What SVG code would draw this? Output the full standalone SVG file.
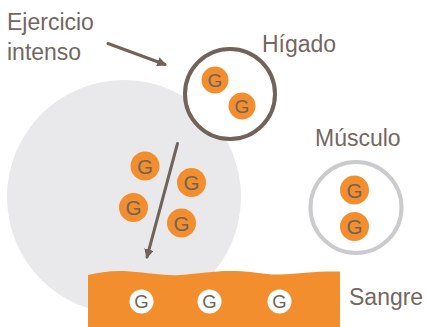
<svg xmlns="http://www.w3.org/2000/svg" width="427" height="327" viewBox="0 0 427 327">
<style>
.lbl{font-family:"Liberation Sans",Arial,sans-serif;font-size:23px;fill:#74675f}
.g{fill:#f28e2e}
.gw{fill:#ffffff}
.gt{font-family:"Liberation Sans",Arial,sans-serif;font-size:20.5px;fill:#6f635b;text-anchor:middle}
.gts{font-family:"Liberation Sans",Arial,sans-serif;font-size:19px;fill:#6f635b;text-anchor:middle}
.gtw{font-family:"Liberation Sans",Arial,sans-serif;font-size:18.5px;fill:#6f635b;text-anchor:middle}
.conn{stroke:#6f635b;stroke-width:3;fill:none;stroke-linecap:round}
</style>
<defs>
<marker id="ah" viewBox="0 0 10 10" refX="8" refY="5" markerWidth="3.2" markerHeight="3.2" orient="auto" markerUnits="strokeWidth">
<path d="M0,0 L10,5 L0,10 z" fill="#6f635b"/>
</marker>
</defs>
<rect width="427" height="327" fill="#ffffff"/>
<g id="cuerpo">
<circle cx="124" cy="197" r="117" fill="#e9e9eb"/>
<circle class="g" cx="145" cy="166" r="14.5"/><text class="gt" x="145" y="173.5">G</text>
<circle class="g" cx="191.5" cy="182.5" r="14.5"/><text class="gt" x="191.5" y="190">G</text>
<circle class="g" cx="133.5" cy="207.5" r="14.5"/><text class="gt" x="133.5" y="215">G</text>
<circle class="g" cx="181.5" cy="223" r="14.5"/><text class="gt" x="181.5" y="230.5">G</text>
</g>
<g id="higado">
<circle cx="230" cy="94" r="45" fill="#ffffff" stroke="#6f635b" stroke-width="4"/>
<circle class="g" cx="215" cy="80" r="13.5"/><text class="gts" x="215" y="87">G</text>
<circle class="g" cx="242" cy="106" r="13.5"/><text class="gts" x="242" y="113">G</text>
<text class="lbl" x="262" y="52">Hígado</text>
</g>
<g id="musculo">
<circle cx="356" cy="207.5" r="45.5" fill="#ffffff" stroke="#cbcbcf" stroke-width="4"/>
<circle class="g" cx="354.5" cy="190" r="14.5"/><text class="gt" x="354.5" y="197.5">G</text>
<circle class="g" cx="354.5" cy="226.5" r="14.5"/><text class="gt" x="354.5" y="234">G</text>
<text class="lbl" x="315" y="146">Músculo</text>
</g>
<g id="sangre">
<path d="M88,275 C100,272 115,270 130,271.5 C150,273 165,276 180,275 C200,273.5 215,270.5 235,271 C255,271.5 265,275 280,274.5 C300,273.5 315,271 340,271.5 L340,327 L88,327 z" fill="#f28e2e"/>
<circle class="gw" cx="141.5" cy="301.5" r="12"/><text class="gtw" x="141.5" y="308.2">G</text>
<circle class="gw" cx="209.5" cy="301.5" r="12"/><text class="gtw" x="209.5" y="308.2">G</text>
<circle class="gw" cx="279.5" cy="301.5" r="12"/><text class="gtw" x="279.5" y="308.2">G</text>
<text class="lbl" x="349" y="305">Sangre</text>
</g>
<g id="ejercicio">
<text class="lbl" x="7" y="30">Ejercicio</text>
<text class="lbl" x="7" y="60">intenso</text>
</g>
<g id="conectores">
<line class="conn" x1="108" y1="43.5" x2="165" y2="64.5" marker-end="url(#ah)"/>
<line class="conn" x1="177.5" y1="143.5" x2="147" y2="257" marker-end="url(#ah)"/>
</g>
</svg>
